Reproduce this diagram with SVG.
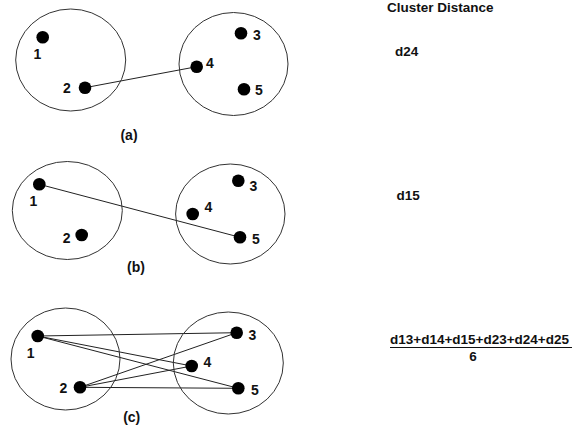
<svg xmlns="http://www.w3.org/2000/svg" width="572" height="426" viewBox="0 0 572 426">
<style>
.c{fill:none;stroke:#333;stroke-width:1}
.d{fill:#000}
.e{stroke:#222;stroke-width:1;fill:none}
text{font-family:"Liberation Sans",Arial,sans-serif;fill:#111;font-weight:bold}
.l{font-size:14px;text-anchor:middle}
.p{font-size:14px;text-anchor:middle}
.t{font-size:13.5px}
</style>
<rect width="572" height="426" fill="#fff"/>
<g id="connectors">
<line class="e" x1="85" y1="87.7" x2="196.7" y2="66.7"/>
<line class="e" x1="39.3" y1="184.3" x2="240" y2="237.3"/>
<line class="e" x1="37.7" y1="336" x2="236.7" y2="332.7"/>
<line class="e" x1="37.7" y1="336" x2="191.7" y2="366"/>
<line class="e" x1="37.7" y1="336" x2="238.3" y2="388.3"/>
<line class="e" x1="80" y1="387.3" x2="236.7" y2="332.7"/>
<line class="e" x1="80" y1="387.3" x2="191.7" y2="366"/>
<line class="e" x1="80" y1="387.3" x2="238.3" y2="388.3"/>
</g>
<g id="panel-a">
<ellipse class="c" cx="70.7" cy="60" rx="55" ry="51"/>
<ellipse class="c" cx="233.5" cy="64" rx="54.5" ry="51.5"/>
<g id="a1"><circle class="d" cx="42.7" cy="37.3" r="6.3"/><text class="l" x="37.3" y="59">1</text></g>
<g id="a2"><circle class="d" cx="85" cy="87.7" r="6.3"/><text class="l" x="67" y="93">2</text></g>
<g id="a3"><circle class="d" cx="241" cy="33.3" r="6.3"/><text class="l" x="257" y="40">3</text></g>
<g id="a4"><circle class="d" cx="196.7" cy="66.7" r="6.3"/><text class="l" x="210" y="68">4</text></g>
<g id="a5"><circle class="d" cx="244" cy="89.3" r="6.3"/><text class="l" x="259" y="95">5</text></g>
<text class="p" x="129" y="140">(a)</text>
</g>
<g id="panel-b">
<ellipse class="c" cx="67.3" cy="210.5" rx="55" ry="49"/>
<ellipse class="c" cx="230.3" cy="214" rx="54.7" ry="50"/>
<g id="b1"><circle class="d" cx="39.3" cy="184.3" r="6.3"/><text class="l" x="33.3" y="206">1</text></g>
<g id="b2"><circle class="d" cx="81.7" cy="235" r="6.3"/><text class="l" x="66.7" y="243">2</text></g>
<g id="b3"><circle class="d" cx="238.3" cy="180.7" r="6.3"/><text class="l" x="253.3" y="191">3</text></g>
<g id="b4"><circle class="d" cx="192.7" cy="214" r="6.3"/><text class="l" x="208.3" y="212">4</text></g>
<g id="b5"><circle class="d" cx="240" cy="237.3" r="6.3"/><text class="l" x="256" y="244">5</text></g>
<text class="p" x="136" y="272">(b)</text>
</g>
<g id="panel-c">
<ellipse class="c" cx="65.5" cy="359" rx="54.5" ry="51"/>
<ellipse class="c" cx="228.3" cy="363" rx="55" ry="51"/>
<g id="c1"><circle class="d" cx="37.7" cy="336" r="6.3"/><text class="l" x="30.7" y="357.7">1</text></g>
<g id="c2"><circle class="d" cx="80" cy="387.3" r="6.3"/><text class="l" x="63.3" y="393">2</text></g>
<g id="c3"><circle class="d" cx="236.7" cy="332.7" r="6.3"/><text class="l" x="252.3" y="340">3</text></g>
<g id="c4"><circle class="d" cx="191.7" cy="366" r="6.3"/><text class="l" x="207.3" y="366.7">4</text></g>
<g id="c5"><circle class="d" cx="238.3" cy="388.3" r="6.3"/><text class="l" x="255" y="395">5</text></g>
<text class="p" x="131.7" y="421.5">(c)</text>
</g>
<g id="distances">
<text class="t" x="387" y="12">Cluster Distance</text>
<text class="t" x="395" y="56">d24</text>
<text class="t" x="396.5" y="199.5">d15</text>
<text class="t" x="390" y="344.3">d13+d14+d15+d23+d24+d25</text>
<line x1="390" y1="347.5" x2="572" y2="347.5" stroke="#111" stroke-width="1"/>
<text class="t" x="473" y="361" text-anchor="middle">6</text>
</g>
</svg>
